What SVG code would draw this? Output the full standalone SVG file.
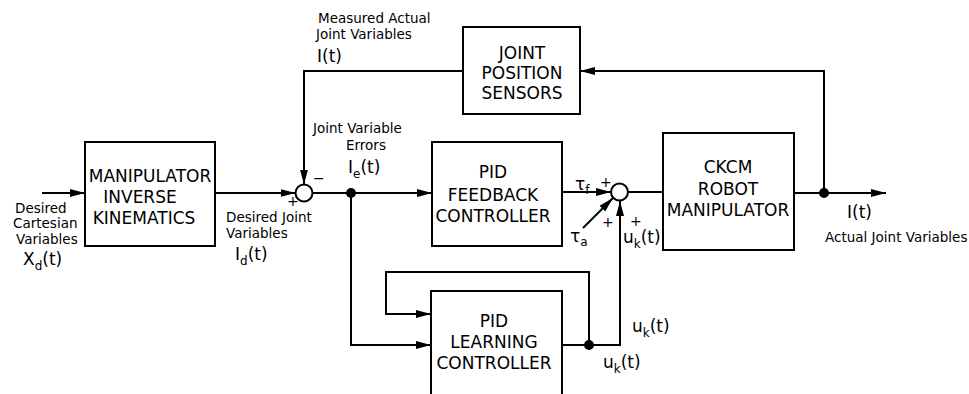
<svg xmlns="http://www.w3.org/2000/svg" width="969" height="394" viewBox="0 0 969 394">
<style>
.box{fill:#fff;stroke:#000;stroke-width:2}
.ln{fill:none;stroke:#000;stroke-width:2}
.bt{font-family:"DejaVu Sans",Verdana,sans-serif;font-size:17px;text-anchor:middle;fill:#000}
.sm{font-family:"DejaVu Sans",Verdana,sans-serif;font-size:13.5px;fill:#000}
.md{font-family:"DejaVu Sans",Verdana,sans-serif;font-size:17px;fill:#000}
.sub{font-size:12px}
.sg{font-family:"DejaVu Sans",Verdana,sans-serif;font-size:14px;fill:#000}
</style>
<defs>
<marker id="ah" markerWidth="16" markerHeight="10" refX="15" refY="5" orient="auto" markerUnits="userSpaceOnUse">
<path d="M0,1 L15,5 L0,9 Z" fill="#000"/>
</marker>
</defs>
<g id="connectors">
<line class="ln" x1="42" y1="193" x2="85" y2="193" marker-end="url(#ah)"/>
<line class="ln" x1="215" y1="193" x2="295.5" y2="193" marker-end="url(#ah)"/>
<polyline class="ln" points="463,71 304,71 304,184.5" marker-end="url(#ah)"/>
<line class="ln" x1="313" y1="193" x2="432" y2="193" marker-end="url(#ah)"/>
<polyline class="ln" points="351,193 351,345 431,345" marker-end="url(#ah)"/>
<polyline class="ln" points="589,345 589,272 386,272 386,314 431,314" marker-end="url(#ah)"/>
<polyline class="ln" points="562,345 620,345 620,201" marker-end="url(#ah)"/>
<line class="ln" x1="562" y1="192" x2="611" y2="192" marker-end="url(#ah)"/>
<line class="ln" x1="583" y1="228" x2="613" y2="198" marker-end="url(#ah)"/>
<line class="ln" x1="628" y1="192" x2="663" y2="192"/>
<line class="ln" x1="794" y1="193" x2="886" y2="193" marker-end="url(#ah)"/>
<polyline class="ln" points="824,193 824,71 580,71" marker-end="url(#ah)"/>
<circle cx="351" cy="193" r="5" fill="#000"/>
<circle cx="589" cy="345" r="5" fill="#000"/>
<circle cx="824" cy="193" r="5" fill="#000"/>
</g>
<g id="sum1">
<circle cx="304" cy="193" r="8.5" fill="#fff" stroke="#000" stroke-width="2"/>
<text class="sg" x="287" y="206">+</text>
<text class="sg" x="313" y="183">−</text>
</g>
<g id="sum2">
<circle cx="619.5" cy="192" r="8.5" fill="#fff" stroke="#000" stroke-width="2"/>
<text class="sg" x="600" y="187">+</text>
<text class="sg" x="602" y="227">+</text>
<text class="sg" x="630" y="226">+</text>
</g>
<g id="manipulator-ik">
<rect class="box" x="85" y="142" width="130" height="104"/>
<text class="bt" x="150" y="182">MANIPULATOR</text>
<text class="bt" x="140" y="203">INVERSE</text>
<text class="bt" x="144" y="224">KINEMATICS</text>
</g>
<g id="joint-sensors">
<rect class="box" x="463" y="27" width="117" height="87"/>
<text class="bt" x="522" y="59">JOINT</text>
<text class="bt" x="522" y="79">POSITION</text>
<text class="bt" x="522" y="99">SENSORS</text>
</g>
<g id="pid-feedback">
<rect class="box" x="432" y="142" width="130" height="104"/>
<text class="bt" x="493" y="178">PID</text>
<text class="bt" x="493" y="201">FEEDBACK</text>
<text class="bt" x="493" y="222">CONTROLLER</text>
</g>
<g id="ckcm">
<rect class="box" x="663" y="133" width="131" height="117"/>
<text class="bt" x="728" y="173">CKCM</text>
<text class="bt" x="728" y="195">ROBOT</text>
<text class="bt" x="728" y="216">MANIPULATOR</text>
</g>
<g id="pid-learning">
<path class="ln" d="M431,396 L431,291 L562,291 L562,396"/>
<text class="bt" x="494" y="327">PID</text>
<text class="bt" x="494" y="348">LEARNING</text>
<text class="bt" x="494" y="369">CONTROLLER</text>
</g>
<g id="labels">
<text class="sm" x="15" y="213">Desired</text>
<text class="sm" x="13" y="228">Cartesian</text>
<text class="sm" x="16" y="244">Variables</text>
<text class="md" x="23" y="265">X<tspan class="sub" dy="5">d</tspan><tspan dy="-5">(t)</tspan></text>
<text class="sm" x="226" y="222">Desired Joint</text>
<text class="sm" x="226" y="238">Variables</text>
<text class="md" x="235" y="260">I<tspan class="sub" dy="5">d</tspan><tspan dy="-5">(t)</tspan></text>
<text class="sm" x="318" y="23">Measured Actual</text>
<text class="sm" x="316" y="39">Joint Variables</text>
<text class="md" x="317" y="62">I(t)</text>
<text class="sm" x="313" y="133">Joint Variable</text>
<text class="sm" x="346" y="150">Errors</text>
<text class="md" x="348" y="173">I<tspan class="sub" dy="5">e</tspan><tspan dy="-5">(t)</tspan></text>
<text class="md" x="575" y="190">τ<tspan class="sub" dy="4">f</tspan></text>
<text class="md" x="570" y="242">τ<tspan class="sub" dy="4">a</tspan></text>
<text class="md" x="623" y="243">u<tspan class="sub" dy="5">k</tspan><tspan dy="-5">(t)</tspan></text>
<text class="md" x="632" y="332">u<tspan class="sub" dy="5">k</tspan><tspan dy="-5">(t)</tspan></text>
<text class="md" x="603" y="368">u<tspan class="sub" dy="5">k</tspan><tspan dy="-5">(t)</tspan></text>
<text class="md" x="847" y="218">I(t)</text>
<text class="sm" x="825" y="242">Actual Joint Variables</text>
</g>
</svg>
